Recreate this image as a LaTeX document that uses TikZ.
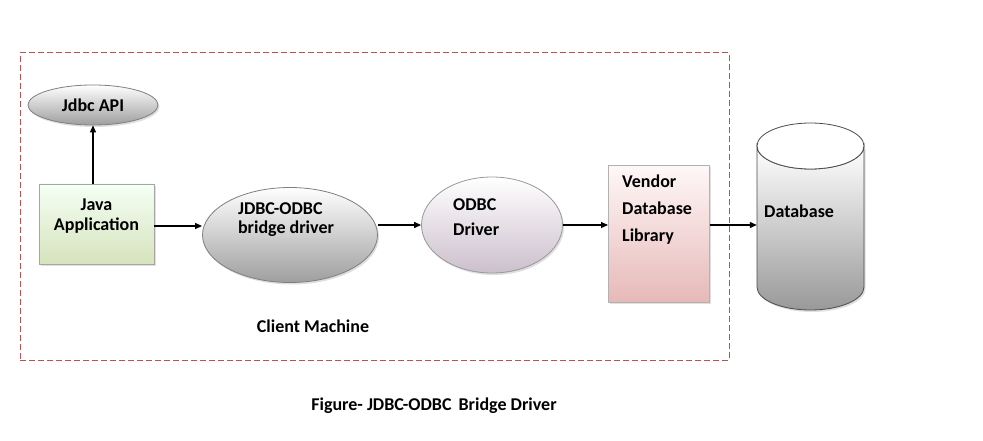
\documentclass[tikz,border=0pt]{standalone}
\usepackage{fontspec}
\setmainfont{Carlito}
\usetikzlibrary{shapes.geometric,arrows.meta,shadows}
\definecolor{frame}{HTML}{C0504D}
\definecolor{edgegray}{HTML}{7F7F7F}
\tikzset{
  lbl/.style={font=\fontsize{18}{21}\selectfont\bfseries, text=black},
  grayell/.style={ellipse, draw=edgegray, line width=0.8pt, top color=white, bottom color=black!38, inner sep=0pt, drop shadow={opacity=0.25, shadow xshift=1.5pt, shadow yshift=-2pt}},
  purpell/.style={ellipse, draw=edgegray!80, line width=0.8pt, top color=white, bottom color=violet!25!gray!40, inner sep=0pt, drop shadow={opacity=0.25, shadow xshift=1.5pt, shadow yshift=-2pt}},
  greenbox/.style={rectangle, draw=black!35, line width=0.6pt, top color=green!4!white, bottom color={rgb,255:red,214;green,227;blue,188}, inner sep=0pt, drop shadow={opacity=0.25, shadow xshift=1.5pt, shadow yshift=-2pt}},
  pinkbox/.style={rectangle, draw=black!30, line width=0.6pt, top color=red!3!white, bottom color={rgb,255:red,230;green,185;blue,184}, inner sep=0pt, drop shadow={opacity=0.25, shadow xshift=1.5pt, shadow yshift=-2pt}},
  arr/.style={-{Triangle[length=7pt,width=6pt]}, line width=1.1pt, black},
}
\begin{document}
\begin{tikzpicture}[x=1pt,y=-1pt]
\useasboundingbox (0,0) rectangle (983,441);
\fill[white] (0,0) rectangle (983,441);
% client machine frame
\node (frame) [draw=frame, dash pattern=on 6pt off 3pt, line width=1pt, minimum width=709pt, minimum height=307pt, inner sep=0pt] at (374.5,206.5) {};
% nodes
\node (api) [grayell, lbl, minimum width=130pt, minimum height=40pt] at (93,105) {Jdbc API};
\node (java) [greenbox, minimum width=115pt, minimum height=80pt] at (96.5,224) {};
\node (javat) [lbl, align=center, inner sep=0pt, font=\fontsize{18}{20}\selectfont\bfseries] at (96.5,216) {Java\\Application};
\node (bridge) [grayell, minimum width=175pt, minimum height=95pt] at (290,235) {};
\node (bridget) [lbl, align=left, inner sep=0pt, font=\fontsize{18}{19}\selectfont\bfseries] at (286,220) {JDBC-ODBC\\bridge driver};
\node (odbc) [purpell, minimum width=141pt, minimum height=96pt] at (492,225) {};
\node (odbct) [lbl, align=left, inner sep=0pt, anchor=north west, font=\fontsize{18}{25}\selectfont\bfseries] at (453,198) {ODBC\\Driver};
\node (vendor) [pinkbox, minimum width=101pt, minimum height=137pt, anchor=north west] at (608,165) {};
\node (vtext) [lbl, align=left, anchor=north west, font=\fontsize{18}{27}\selectfont\bfseries, inner sep=0pt] at (622,175) {Vendor\\Database\\Library};
% database cylinder
\path[shade, top color=white, bottom color=black!40, draw=black!70, line width=0.8pt, drop shadow={opacity=0.25, shadow xshift=1.5pt, shadow yshift=-2pt}]
  (757,146) -- (757,287) arc[start angle=180, end angle=0, x radius=53.5, y radius=23] -- (864,146) arc[start angle=0, end angle=180, x radius=53.5, y radius=23] -- cycle;
\draw[fill=white, draw=black!70, line width=0.8pt] (810.5,146) ellipse[x radius=53.5, y radius=23];
\node (db) [minimum width=107pt, minimum height=164pt, inner sep=0pt] at (810.5,228) {};
\node (dbtext) [lbl, anchor=west, inner sep=0pt] at (764,211) {Database};
% connectors
\draw[arr] (api.south |- java.north) -- (api.south);
\draw[arr] (java.east |- 0,226) -- (bridge.west |- 0,226);
\draw[arr] (bridge.east |- 0,225) -- (odbc.west |- 0,225);
\draw[arr] (odbc.east |- 0,225) -- (vendor.west |- 0,225);
\draw[arr] (vendor.east |- 0,225) -- (db.west |- 0,225);
% labels
\node (client) [lbl] at (313,326) {Client Machine};
\node (caption) [lbl] at (434,406) {Figure- JDBC-ODBC\, Bridge Driver};
\end{tikzpicture}
\end{document}
